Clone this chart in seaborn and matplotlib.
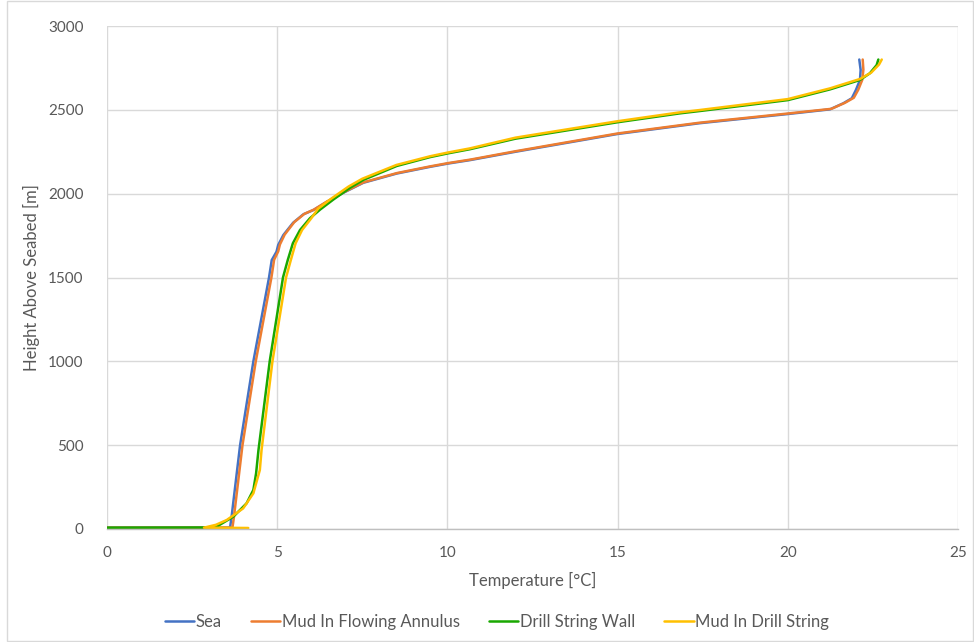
import matplotlib
matplotlib.use("Agg")
import matplotlib.pyplot as plt
import seaborn as sns
import pandas as pd
from matplotlib.patches import Rectangle

series_names = ["Sea", "Mud In Flowing Annulus", "Drill String Wall", "Mud In Drill String"]
colors = ["#4472C4", "#ED7D31", "#19A800", "#FFC000"]

sea_T = [0, 3.58, 3.62, 3.66, 3.91, 4.30, 4.76, 4.84, 4.98, 5.03, 5.18, 5.47, 5.77, 6.06, 6.45,
         6.94, 7.53, 8.51, 9.49, 10.03, 10.66, 12.0, 15.0, 17.4, 20.0, 21.24, 21.63, 21.88, 22.0,
         22.12, 22.14, 22.10]
sea_H = [8, 8, 15, 73, 500, 1000, 1500, 1604, 1654, 1694, 1753, 1827, 1877, 1902, 1950,
         2005, 2065, 2120, 2160, 2180, 2200, 2250, 2356, 2420, 2475, 2503, 2539, 2569, 2618,
         2678, 2738, 2800]

ann_T = [0, 3.66, 3.69, 3.73, 3.98, 4.37, 4.83, 4.91, 5.03, 5.08, 5.22, 5.50, 5.80, 6.08, 6.46,
         6.95, 7.54, 8.52, 9.50, 10.04, 10.67, 12.0, 15.0, 17.4, 20.0, 21.28, 21.68, 21.94, 22.07,
         22.19, 22.22, 22.20]
ann_H = [8, 8, 15, 73, 500, 1000, 1500, 1606, 1656, 1697, 1756, 1830, 1880, 1905, 1953,
         2008, 2068, 2123, 2163, 2183, 2203, 2253, 2359, 2423, 2478, 2506, 2542, 2572, 2620,
         2680, 2740, 2800]

wall_T = [0, 2.9, 3.22, 3.71, 4.10, 4.30, 4.38, 4.45, 4.78, 5.17, 5.31, 5.46, 5.67, 5.96, 6.26,
          6.65, 7.14, 7.53, 8.51, 9.49, 10.03, 10.66, 12.0, 15.0, 16.83, 17.42, 20.0, 21.24,
          22.12, 22.41, 22.61, 22.66]
wall_H = [8, 9, 14, 73, 153, 233, 332, 471, 1000, 1500, 1604, 1704, 1783, 1853, 1905,
          1965, 2035, 2082, 2165, 2218, 2241, 2265, 2328, 2426, 2479, 2493, 2558, 2622,
          2678, 2718, 2767, 2800]

pipe_T = [4.15, 2.85, 3.2, 3.52, 4.0, 4.30, 4.49, 4.54, 4.86, 5.26, 5.40, 5.54, 5.73, 6.0, 6.2,
          6.6, 7.1, 7.5, 8.5, 9.49, 10.03, 10.66, 12.0, 15.0, 16.83, 17.42, 20.0, 21.24, 22.12,
          22.45, 22.68, 22.76]
pipe_H = [6, 8, 25, 54, 123, 213, 352, 471, 1000, 1500, 1604, 1704, 1783, 1853, 1910,
          1972, 2043, 2089, 2171, 2223, 2246, 2270, 2334, 2432, 2485, 2499, 2564, 2628, 2684,
          2722, 2770, 2800]

x_ticks = [0, 5, 10, 15, 20, 25]
y_ticks = [0, 500, 1000, 1500, 2000, 2500, 3000]

frames = []
for name, T, H in zip(series_names, [sea_T, ann_T, wall_T, pipe_T], [sea_H, ann_H, wall_H, pipe_H]):
    frames.append(pd.DataFrame({"T": T, "H": H, "series": name, "order": range(len(T))}))
df = pd.concat(frames, ignore_index=True)

sns.set_theme(style="white")
plt.rcParams["font.family"] = ["Lato", "DejaVu Sans"]

fig = plt.figure(figsize=(9.74, 6.42), dpi=100)
ax = fig.add_axes([107 / 974, 1 - 529 / 642, (958 - 107) / 974, (529 - 26) / 642])

sns.lineplot(data=df, x="T", y="H", hue="series", hue_order=series_names,
             palette=colors, sort=False, estimator=None, units="series",
             linewidth=1.8, ax=ax, legend=False)

ax.set_xlim(0, 25)
ax.set_ylim(0, 3000)
ax.set_xticks(x_ticks)
ax.set_yticks(y_ticks)
ax.grid(True, color="#d9d9d9", linewidth=1.0)
ax.set_axisbelow(True)
for s in ["top", "right", "left"]:
    ax.spines[s].set_visible(False)
ax.spines["bottom"].set_color("#bfbfbf")
ax.spines["bottom"].set_linewidth(1.0)
ax.tick_params(axis="both", length=0, labelsize=11, labelcolor="#595959")
ax.tick_params(axis="y", pad=17)
ax.tick_params(axis="x", pad=12)
ax.set_xlabel("Temperature [°C]", fontsize=12, color="#595959", labelpad=9)
ax.set_ylabel("Height Above Seabed [m]", fontsize=12, color="#595959", labelpad=6)

handles = [plt.Line2D([0], [0], color=c, lw=1.8) for c in colors]
fig.legend(handles, series_names, loc="center", bbox_to_anchor=(497 / 974, 1 - 622 / 642),
           ncol=4, frameon=False, fontsize=12, handlelength=1.75, handletextpad=0.1,
           columnspacing=1.75, labelcolor="#595959")

fig.patches.append(Rectangle((7 / 974, 0.002), 966 / 974, 0.996, transform=fig.transFigure,
                             fill=False, edgecolor="#d9d9d9", linewidth=1.0))

fig.savefig("out.png", dpi=100)
